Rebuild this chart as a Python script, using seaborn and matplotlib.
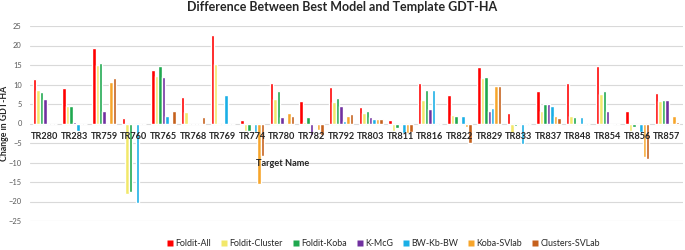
import pandas as pd
import matplotlib.pyplot as plt
import seaborn as sns
from matplotlib.lines import Line2D

# Dados
targets = ["TR280", "TR283", "TR759", "TR760", "TR765", "TR768", "TR769", "TR774",
           "TR780", "TR782", "TR792", "TR803", "TR811", "TR816", "TR822", "TR829",
           "TR833", "TR837", "TR848", "TR854", "TR856", "TR857"]
modelos = ["Foldit-All", "Foldit-Cluster", "Foldit-Koba", "K-McG",
           "BW-Kb-BW", "Koba-SVlab", "Clusters-SVLab"]

foldit_all =     [11.5, 9.1, 19.3, 1.3, 13.8, 6.8, 22.6, 1.0, 10.3, 5.8, 9.3, 4.2, 1.0, 10.3, 7.2, 14.5, 2.7, 8.3, 10.3, 14.8, 3.3, 7.9]
foldit_cluster = [8.5, 4.4, 14.9, -18.0, 12.1, 2.9, 15.2, -2.0, 6.3, 0.3, 5.6, 2.6, -2.0, 6.0, 2.1, 11.6, -2.4, 3.2, 1.9, 7.5, -2.0, 5.7]
foldit_koba =    [8.1, 4.4, 15.6, -17.5, 14.7, 0.0, 0.0, -2.0, 8.3, 1.6, 6.5, 3.2, -1.2, 8.5, 2.0, 11.9, -0.7, 5.0, 1.6, 8.3, -0.8, 6.0]
k_mcg =          [6.2, 0.3, 3.2, 0.0, 12.0, 0.0, 0.0, 0.0, 1.6, -3.0, 4.5, 1.6, 0.0, 3.7, 0.0, 3.3, 0.0, 5.0, 0.0, 3.3, 0.0, 6.0]
bw_kb_bw =       [0.0, -2.0, 0.0, -20.3, 1.8, 0.0, 7.2, -2.3, 0.0, 0.0, 0.6, 1.2, -2.5, 8.5, 2.0, 3.9, -5.3, 4.4, 1.6, -0.3, -2.3, 0.0]
koba_svlab =     [0.0, 0.0, 10.7, 0.0, 0.0, 0.0, 0.0, -15.4, 2.7, -1.7, 2.0, 1.2, -2.5, 0.0, -0.9, 9.7, 0.0, 1.9, 0.0, 0.0, -8.7, 2.0]
clusters_svlab = [0.0, 0.0, 11.6, 0.0, 3.3, 1.7, 0.0, -8.3, 2.0, -3.0, 2.4, 1.2, -2.3, 0.0, -5.0, 9.7, 0.0, 1.4, 0.0, 0.0, -9.1, 0.3]

cores = ["#FF0000", "#F2E86A", "#1FA84F", "#7030A0", "#1AAFE6", "#F7A52A", "#C5601C"]

series = [foldit_all, foldit_cluster, foldit_koba, k_mcg, bw_kb_bw, koba_svlab, clusters_svlab]
linhas = []
for modelo, valores in zip(modelos, series):
    for t, v in zip(targets, valores):
        linhas.append({"target": t, "modelo": modelo, "valor": v})
df = pd.DataFrame(linhas)

sns.set_style("white")
plt.rcParams['font.family'] = ['Lato', 'DejaVu Sans']

fig = plt.figure(figsize=(6.85, 2.5), dpi=100)
ax = fig.add_axes([0.044, 0.116, 0.953, 0.78])

sns.barplot(data=df, x="target", y="valor", hue="modelo", hue_order=modelos,
            palette=cores, width=0.82, errorbar=None, ax=ax, legend=False,
            saturation=1)

ax.set_ylim(-25, 25)
ax.set_yticks(range(-25, 30, 5))
ax.set_xlim(-0.5, len(targets) - 0.46)
# linhas de grade por baixo das barras, rótulos por cima
for y in range(-25, 30, 5):
    ax.axhline(y, color="#D9D9D9", linewidth=0.8, zorder=0)
ax.grid(False)
ax.set_axisbelow(False)
for s in ax.spines.values():
    s.set_visible(False)
ax.spines['bottom'].set_position(('data', 0))

ax.tick_params(axis='y', labelsize=5.4, labelcolor="#595959", length=0, pad=6)
ax.tick_params(axis='x', labelsize=6.6, labelcolor="#262626", length=0, pad=6)
for lbl in ax.get_xticklabels():
    lbl.set_fontweight('bold')

ax.set_xlabel("Target Name", fontsize=6.6, fontweight='bold', color="#262626")
ax.xaxis.set_label_coords(0.387, 0.32)
ax.set_ylabel("Change in GDT-HA", fontsize=6.3, fontweight='bold', color="#262626")
ax.yaxis.set_label_coords(-0.032, 0.5)
fig.suptitle("Difference Between Best Model and Template GDT-HA", fontsize=9,
             fontweight='bold', color="#262626", y=0.995)

handles = [Line2D([0], [0], marker='s', color='none', markerfacecolor=c,
                  markeredgecolor='none', markersize=4.5) for c in cores]
fig.legend(handles, modelos, loc='lower center', ncol=7, frameon=False,
           fontsize=6.4, handlelength=0.7, handletextpad=0.25, columnspacing=1.1,
           bbox_to_anchor=(0.56, -0.025))

fig.savefig("out.png", dpi=100)
